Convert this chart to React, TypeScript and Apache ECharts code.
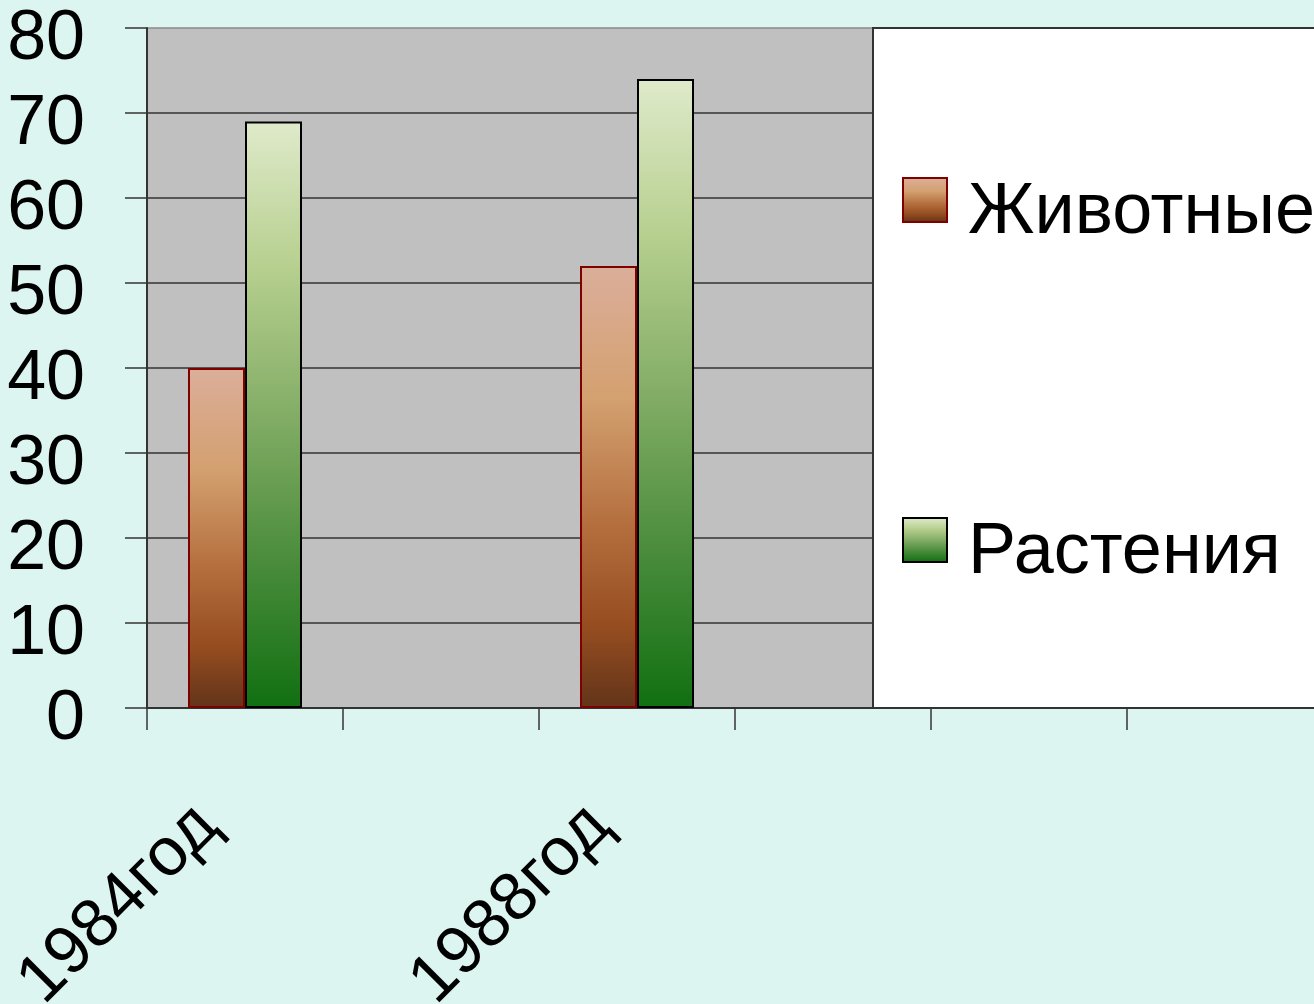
import React, { useEffect, useRef } from "react";
import * as echarts from "echarts";

const categories = ["1984год", "", "1988год", "", "", ""];
const animalsValues = [40, null, 52, null, null, null];
const plantsValues = [69, null, 74, null, null, null];
const seriesNames = ["Животные", "Растения"];
const yTicks = { min: 0, max: 80, interval: 10 };

const FONT = "'Liberation Sans', Arial, sans-serif";

export default function App() {
  const ref = useRef<HTMLDivElement>(null);
  useEffect(() => {
    if (!ref.current) return;
    const chart = echarts.init(ref.current, undefined, { renderer: "svg" });
    const animalsGrad = new echarts.graphic.LinearGradient(0, 0, 0, 1, [
      { offset: 0, color: "#dbae9a" },
      { offset: 0.3, color: "#d3a06f" },
      { offset: 0.6, color: "#b36c3c" },
      { offset: 0.82, color: "#954d20" },
      { offset: 1, color: "#63341a" },
    ]);
    const plantsGrad = new echarts.graphic.LinearGradient(0, 0, 0, 1, [
      { offset: 0, color: "#dfeaca" },
      { offset: 0.25, color: "#b6cf8e" },
      { offset: 0.5, color: "#83ad66" },
      { offset: 0.75, color: "#4a8c3c" },
      { offset: 1, color: "#117011" },
    ]);
    const splitColors = [
      "#333", "#333", "#333", "#333", "#333", "#333", "#333", "#333", "#8a8a8a",
    ];
    chart.setOption({
      animation: false,
      backgroundColor: "#dcf5f0",
      textStyle: { fontFamily: FONT },
      grid: {
        left: 147,
        top: 28,
        width: 1176,
        height: 680,
        show: true,
        backgroundColor: "#c0c0c0",
        borderWidth: 0,
        containLabel: false,
        outerBoundsMode: "none",
      },
      legend: {
        orient: "vertical",
        left: 873,
        top: 28,
        z: 10,
        data: seriesNames,
        icon: "rect",
        itemWidth: 44,
        itemHeight: 44,
        itemGap: 252,
        padding: [128, 60, 124, 29],
        backgroundColor: "#ffffff",
        borderColor: "#333333",
        borderWidth: 2,
        formatter: "{a|{name}}",
        textStyle: {
          fontSize: 72,
          lineHeight: 56,
          color: "#000",
          fontFamily: FONT,
          rich: {
            a: {
              fontSize: 72,
              lineHeight: 56,
              color: "#000",
              fontFamily: FONT,
              padding: [16, 0, 0, 16],
            },
          },
        },
      },
      xAxis: {
        type: "category",
        data: categories,
        axisLine: { show: true, lineStyle: { color: "#333", width: 2 } },
        axisTick: {
          show: true,
          length: 22,
          alignWithLabel: false,
          lineStyle: { color: "#333", width: 1.5 },
        },
        axisLabel: {
          interval: 0,
          rotate: 45,
          fontSize: 68,
          color: "#000",
          fontFamily: FONT,
          margin: 63,
          padding: [0, 58, 0, 0],
        },
        splitLine: { show: false },
      },
      yAxis: {
        type: "value",
        min: yTicks.min,
        max: yTicks.max,
        interval: yTicks.interval,
        axisLine: { show: true, lineStyle: { color: "#333", width: 2 } },
        axisTick: {
          show: true,
          length: 22,
          lineStyle: { color: "#333", width: 1.5 },
        },
        axisLabel: {
          fontSize: 70,
          color: "#000",
          fontFamily: FONT,
          margin: 62,
          verticalAlign: "top",
          lineHeight: 14,
        },
        splitLine: { show: true, lineStyle: { color: splitColors, width: 1.5 } },
      },
      series: [
        {
          name: seriesNames[0],
          type: "bar",
          data: animalsValues,
          barWidth: 57,
          barGap: "0%",
          itemStyle: {
            color: animalsGrad,
            borderColor: "#800000",
            borderWidth: 2,
          },
        },
        {
          name: seriesNames[1],
          type: "bar",
          data: plantsValues,
          barWidth: 57,
          barGap: "0%",
          itemStyle: {
            color: plantsGrad,
            borderColor: "#000000",
            borderWidth: 2,
          },
        },
      ],
    });
    return () => chart.dispose();
  }, []);
  return (
    <div
      ref={ref}
      style={{ position: "fixed", left: 0, top: 0, width: 1314, height: 1004 }}
    />
  );
}
